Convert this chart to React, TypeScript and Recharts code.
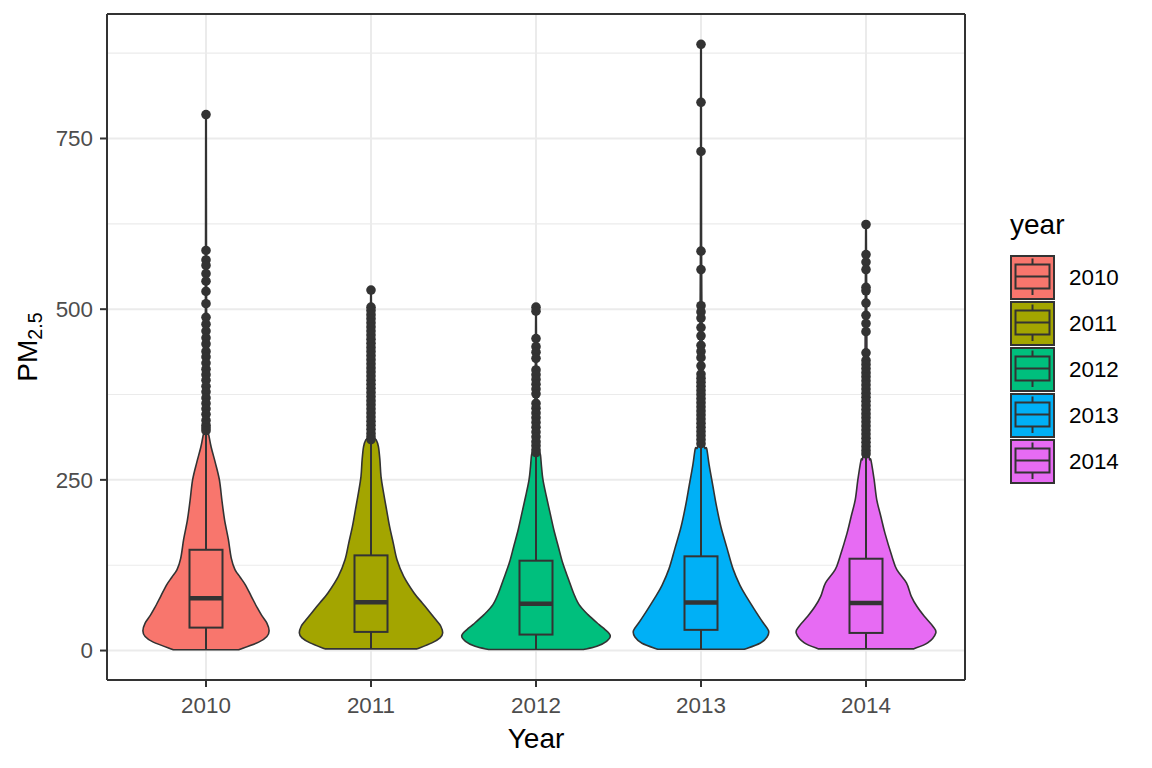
import React from "react";
import {
  Bar,
  CartesianGrid,
  ComposedChart,
  Legend,
  XAxis,
  YAxis,
} from "recharts";

// years and their fill colours (ggplot hue palette)
const YEARS = ["2010", "2011", "2012", "2013", "2014"];
const FILLS = ["#F8766D", "#A3A500", "#00BF7D", "#00B0F6", "#E76BF3"];

// labelled ticks, plus the minor grid values between them
const Y_TICKS = [0, 250, 500, 750];
const Y_GRID = [0, 125, 250, 375, 500, 625, 750, 875];

// violin profiles: [PM2.5 value, relative density width]
const VIOLIN_2010: [number, number][] = [
  [1.2, 0.44], [12.3, 0.71], [20.7, 0.82], [29.1, 0.85], [40.3, 0.82],
  [51.5, 0.75], [62.7, 0.69], [79.5, 0.61], [96.2, 0.53], [107.4, 0.46],
  [118.6, 0.39], [135.4, 0.34], [163.4, 0.3], [191.4, 0.25], [219.4, 0.215],
  [250.2, 0.18], [275.3, 0.125], [297.7, 0.07], [314.5, 0.04], [330, 0.015],
  [400, 0.01], [600, 0.006], [785, 0.004],
];
const VIOLIN_2011: [number, number][] = [
  [2.5, 0.62], [11.2, 0.82], [18.5, 0.93], [25.8, 0.965], [35.6, 0.94],
  [42.9, 0.89], [55.1, 0.8], [69.7, 0.69], [84.3, 0.58], [108.6, 0.44],
  [133, 0.35], [157.4, 0.3], [181.8, 0.25], [206, 0.21], [230.5, 0.17],
  [254.8, 0.135], [279, 0.12], [298.7, 0.1], [308.5, 0.07], [313, 0.03],
  [330, 0.015], [420, 0.01], [528, 0.004],
];
const VIOLIN_2012: [number, number][] = [
  [1.5, 0.64], [6.3, 0.82], [13.6, 0.95], [21.9, 1.0], [30.7, 0.93],
  [38, 0.85], [52.6, 0.7], [67.3, 0.58], [84.3, 0.505], [103.8, 0.44],
  [128.2, 0.36], [152.5, 0.3], [177, 0.24], [201.3, 0.19], [225.6, 0.14],
  [250, 0.094], [269.5, 0.074], [286.5, 0.06], [300, 0.034], [380, 0.012],
  [500, 0.004],
];
const VIOLIN_2013: [number, number][] = [
  [1.8, 0.58], [10.8, 0.795], [19.9, 0.89], [28.9, 0.91], [41, 0.835],
  [59.3, 0.725], [77.5, 0.62], [95.6, 0.525], [120, 0.43], [150, 0.35],
  [180.5, 0.27], [210.8, 0.21], [241, 0.16], [271.5, 0.11], [295.8, 0.077],
  [305, 0.04], [400, 0.018], [500, 0.012], [600, 0.007], [888, 0.004],
];
const VIOLIN_2014: [number, number][] = [
  [2.4, 0.64], [11.2, 0.83], [25.8, 0.94], [35.6, 0.9], [50.2, 0.785],
  [64.8, 0.685], [79.4, 0.61], [99, 0.545], [118.4, 0.415], [137.9, 0.35],
  [172, 0.255], [196.4, 0.2], [220.8, 0.145], [250, 0.11], [279, 0.067],
  [290, 0.04], [400, 0.015], [500, 0.01], [624, 0.004],
];
const VIOLINS = [VIOLIN_2010, VIOLIN_2011, VIOLIN_2012, VIOLIN_2013, VIOLIN_2014];

// boxplot statistics per year
const BOX_LOW = [1.2, 2.5, 1.5, 1.8, 2.4];
const BOX_Q1 = [33.6, 27.3, 23.4, 30.3, 25.8];
const BOX_MEDIAN = [76.6, 70.7, 68.7, 70.2, 69.7];
const BOX_Q3 = [147.6, 139.4, 131.6, 138, 134.5];
const BOX_HIGH = [318, 307, 289, 298, 286];

// outliers per year
const OUTLIERS_2010 = [
  785, 586, 572, 564, 552, 541, 526, 508, 488, 478, 468, 458, 449, 438, 430,
  421, 412, 404, 396, 387, 379, 370, 362, 354, 346, 337, 330, 326, 322,
];
const OUTLIERS_2011 = [
  528, 503, 498, 492, 486, 480, 474, 468, 462, 456, 450, 444, 438, 432, 426,
  420, 414, 408, 402, 396, 390, 384, 378, 372, 366, 360, 354, 348, 342, 336,
  330, 324, 318, 313, 309,
];
const OUTLIERS_2012 = [
  503, 497, 457, 445, 437, 428, 411, 404, 397, 390, 383, 376, 362, 355, 348,
  341, 334, 327, 320, 313, 306, 300, 294, 290,
];
const OUTLIERS_2013 = [
  888, 803, 731, 585, 558, 505, 496, 487, 473, 461, 447, 438, 429, 417, 405,
  399, 393, 387, 381, 375, 369, 363, 357, 351, 345, 339, 333, 327, 321, 315,
  309, 303,
];
const OUTLIERS_2014 = [
  624, 580, 569, 558, 532, 527, 509, 491, 479, 467, 436, 425, 419, 413, 407,
  401, 395, 389, 383, 377, 371, 365, 359, 353, 347, 341, 335, 329, 323, 317,
  311, 305, 299, 293, 288,
];
const OUTLIERS = [OUTLIERS_2010, OUTLIERS_2011, OUTLIERS_2012, OUTLIERS_2013, OUTLIERS_2014];

const FONT = "'Liberation Sans', Arial, sans-serif";
const INK = "#333333";
const TICK_SIZE = 7;
const TICK_MARGIN = 7;

const rows = YEARS.map((year, i) => {
  const values = [
    ...VIOLINS[i].map((p) => p[0]),
    ...OUTLIERS[i],
    BOX_LOW[i],
    BOX_HIGH[i],
  ];
  return {
    year,
    index: i,
    range: [Math.min(...values), Math.max(...values)],
    violin: VIOLINS[i],
    low: BOX_LOW[i],
    q1: BOX_Q1[i],
    median: BOX_MEDIAN[i],
    q3: BOX_Q3[i],
    high: BOX_HIGH[i],
    outliers: OUTLIERS[i],
  };
});

// ggplot-style 5% expansion of the data range
const dataMin = Math.min(...rows.map((r) => r.range[0]));
const dataMax = Math.max(...rows.map((r) => r.range[1]));
const pad = (dataMax - dataMin) * 0.05;
const Y_DOMAIN = [dataMin - pad, dataMax + pad];

// catmull-rom through the outline points, as cubic bezier segments
function curveThrough(pts: number[][]) {
  let out = "";
  for (let k = 0; k < pts.length - 1; k++) {
    const p0 = pts[k - 1] || pts[k];
    const p1 = pts[k];
    const p2 = pts[k + 1];
    const p3 = pts[k + 2] || p2;
    const c1 = [p1[0] + (p2[0] - p0[0]) / 6, p1[1] + (p2[1] - p0[1]) / 6];
    const c2 = [p2[0] - (p3[0] - p1[0]) / 6, p2[1] - (p3[1] - p1[1]) / 6];
    out += `C${c1[0]},${c1[1]} ${c2[0]},${c2[1]} ${p2[0]},${p2[1]}`;
  }
  return out;
}

function ViolinShape(props: any) {
  const { x, y, width, height, payload } = props;
  const i = payload.index;
  const top = Math.min(y, y + height);
  const bottom = Math.max(y, y + height);
  const [lo, hi] = payload.range;
  const toY = (v: number) => bottom - ((v - lo) / (hi - lo)) * (bottom - top);
  const cx = x + width / 2;
  const maxHalf = width * 0.45;
  const boxHalf = width * 0.1;
  const prof: [number, number][] = payload.violin;
  const right = prof.map(([v, dd]) => [cx + dd * maxHalf, toY(v)]);
  const left = [...prof].reverse().map(([v, dd]) => [cx - dd * maxHalf, toY(v)]);
  const d =
    `M${right[0][0]},${right[0][1]}` +
    curveThrough(right) +
    `L${left[0][0]},${left[0][1]}` +
    curveThrough(left) +
    "Z";
  return (
    <g>
      <path d={d} fill={FILLS[i]} stroke={INK} strokeWidth={1.6} strokeLinejoin="round" />
      <line x1={cx} x2={cx} y1={toY(payload.q1)} y2={toY(payload.low)} stroke={INK} strokeWidth={2} />
      <line x1={cx} x2={cx} y1={toY(payload.q3)} y2={toY(payload.high)} stroke={INK} strokeWidth={2} />
      <rect
        x={cx - boxHalf}
        y={toY(payload.q3)}
        width={boxHalf * 2}
        height={toY(payload.q1) - toY(payload.q3)}
        fill={FILLS[i]}
        stroke={INK}
        strokeWidth={2}
      />
      <line
        x1={cx - boxHalf}
        x2={cx + boxHalf}
        y1={toY(payload.median)}
        y2={toY(payload.median)}
        stroke={INK}
        strokeWidth={4.5}
      />
      {payload.outliers.map((v: number, k: number) => (
        <circle key={k} cx={cx} cy={toY(v)} r={4.8} fill={INK} />
      ))}
    </g>
  );
}

// y tick: label and tick mark only on the labelled values
function YTick(props: any) {
  const { x, y, payload } = props;
  if (!Y_TICKS.includes(payload.value)) return <g />;
  return (
    <g>
      <line
        x1={x + TICK_MARGIN}
        x2={x + TICK_MARGIN + TICK_SIZE}
        y1={y}
        y2={y}
        stroke={INK}
        strokeWidth={2}
      />
      <text
        x={x}
        y={y}
        dy="0.355em"
        textAnchor="end"
        fill="#4D4D4D"
        fontSize={22.4}
        fontFamily={FONT}
      >
        {payload.value}
      </text>
    </g>
  );
}

// major grid lines thicker than the minor ones in between
function GridRow(p: any) {
  return (
    <line
      key={`h-${p.index}`}
      x1={p.x1}
      x2={p.x2}
      y1={p.y1}
      y2={p.y2}
      stroke="#EBEBEB"
      strokeWidth={p.index % 2 === 0 ? 2 : 1.1}
    />
  );
}

function YearLegend() {
  return (
    <div style={{ fontFamily: FONT, color: "#000" }}>
      <div style={{ fontSize: 28, lineHeight: "32px", marginBottom: 14 }}>year</div>
      {YEARS.map((year, i) => (
        <div key={year} style={{ display: "flex", alignItems: "center", height: 46 }}>
          <svg width={46} height={46}>
            <rect x={1} y={1} width={43} height={43} fill={FILLS[i]} stroke={INK} strokeWidth={2} />
            <line x1={22.5} x2={22.5} y1={3.5} y2={9.5} stroke={INK} strokeWidth={2} />
            <line x1={22.5} x2={22.5} y1={33.5} y2={40} stroke={INK} strokeWidth={2} />
            <rect x={5.5} y={9.5} width={34} height={24} fill={FILLS[i]} stroke={INK} strokeWidth={2} />
            <line x1={5.5} x2={39.5} y1={21.5} y2={21.5} stroke={INK} strokeWidth={2} />
          </svg>
          <span style={{ marginLeft: 13, fontSize: 22.4 }}>{year}</span>
        </div>
      ))}
    </div>
  );
}

function YLabel(props: any) {
  const vb = props.viewBox;
  const cy = vb.y + vb.height / 2;
  const bx = vb.x + 37;
  return (
    <text
      transform={`translate(${bx},${cy}) rotate(-90)`}
      textAnchor="middle"
      fontFamily={FONT}
      fontSize={28}
      fill="#000"
    >
      <tspan>PM</tspan>
      <tspan fontSize={19.6} dy={5}>2.5</tspan>
    </text>
  );
}

export default function App() {
  return (
    <div style={{ position: "absolute", left: 0, top: 0, background: "#fff" }}>
      <ComposedChart
        width={1152}
        height={768}
        data={rows}
        margin={{ top: 13, right: 186, bottom: 0, left: 0 }}
        barCategoryGap={0}
        barGap={0}
        style={{ fontFamily: FONT }}
      >
        <CartesianGrid stroke="#EBEBEB" strokeWidth={2} horizontal={GridRow} />
        <XAxis
          dataKey="year"
          type="category"
          padding={{ left: 16.5, right: 16.5 }}
          height={88}
          tickSize={7}
          tickMargin={10}
          tickLine={{ stroke: INK, strokeWidth: 2 }}
          axisLine={{ stroke: INK, strokeWidth: 2 }}
          tick={{ fill: "#4D4D4D", fontSize: 22.4, fontFamily: FONT }}
          label={{
            value: "Year",
            position: "insideBottom",
            offset: 20,
            fill: "#000",
            fontSize: 28,
            fontFamily: FONT,
          }}
        />
        <XAxis
          xAxisId="top"
          dataKey="year"
          orientation="top"
          height={1}
          tick={false}
          tickLine={false}
          axisLine={{ stroke: INK, strokeWidth: 2 }}
        />
        <YAxis
          type="number"
          domain={Y_DOMAIN}
          ticks={Y_GRID}
          interval={0}
          width={107}
          tickSize={TICK_SIZE}
          tickMargin={TICK_MARGIN}
          tickLine={false}
          axisLine={{ stroke: INK, strokeWidth: 2 }}
          tick={YTick}
          label={{ content: YLabel }}
        />
        <YAxis
          yAxisId="right"
          type="number"
          orientation="right"
          width={1}
          domain={Y_DOMAIN}
          tick={false}
          tickLine={false}
          axisLine={{ stroke: INK, strokeWidth: 2 }}
        />
        <Bar dataKey="range" shape={ViolinShape} isAnimationActive={false} />
        <Legend
          layout="horizontal"
          verticalAlign="middle"
          align="center"
          content={YearLegend}
          wrapperStyle={{ left: 1010, top: 209, width: 140 }}
        />
      </ComposedChart>
    </div>
  );
}
